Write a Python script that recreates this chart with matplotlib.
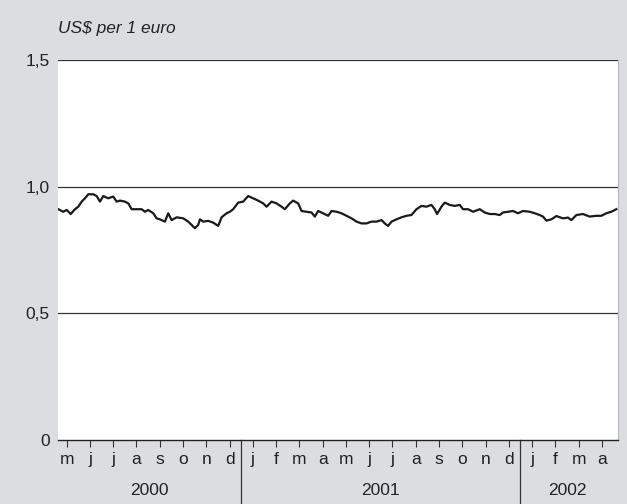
import matplotlib
matplotlib.use("Agg")
import matplotlib.pyplot as plt
import matplotlib.transforms as mtransforms

plt.rcParams['font.family'] = ['Liberation Sans', 'DejaVu Sans']

# time in months since 1 May 2000
months = [0.14, 0.354, 0.50, 0.672, 0.857, 0.998, 1.144, 1.286, 1.428, 1.643, 1.789, 1.930,
          2.072, 2.287, 2.501, 2.647, 2.789, 3.004, 3.146, 3.292, 3.506, 3.721, 3.863, 4.004,
          4.219, 4.365, 4.507, 4.722, 4.863, 5.009, 5.224, 5.507, 5.722, 5.868, 6.010, 6.152,
          6.225, 6.366, 6.581, 6.796, 7.010, 7.156, 7.371, 7.513, 7.654, 7.869, 8.084, 8.299,
          8.513, 8.728, 8.943, 9.089, 9.303, 9.518, 9.733, 9.875, 10.089, 10.231, 10.446,
          10.592, 10.806, 11.021, 11.163, 11.305, 11.519, 11.734, 11.880, 12.095, 12.310,
          12.524, 12.739, 12.954, 13.168, 13.383, 13.598, 13.813, 14.027, 14.169, 14.311,
          14.457, 14.671, 14.886, 15.101, 15.315, 15.530, 15.745, 15.960, 16.174, 16.316,
          16.415, 16.604, 16.746, 16.960, 17.175, 17.390, 17.532, 17.746, 17.961, 18.249,
          18.464, 18.678, 18.893, 19.108, 19.249, 19.464, 19.679, 19.893, 20.108, 20.396,
          20.610, 20.825, 20.967, 21.113, 21.327, 21.542, 21.826, 22.041, 22.186, 22.401,
          22.684, 22.972, 23.260, 23.475, 23.689, 23.904, 24.119]
usd_per_euro = [0.911, 0.901, 0.908, 0.892, 0.911, 0.921, 0.941, 0.954, 0.970, 0.970, 0.963, 0.941,
                0.963, 0.954, 0.961, 0.941, 0.945, 0.941, 0.934, 0.911, 0.911, 0.911, 0.901, 0.908,
                0.895, 0.875, 0.871, 0.862, 0.895, 0.868, 0.879, 0.875, 0.862, 0.849, 0.836, 0.849,
                0.871, 0.862, 0.865, 0.858, 0.845, 0.879, 0.895, 0.901, 0.911, 0.937, 0.941, 0.963,
                0.954, 0.945, 0.934, 0.921, 0.941, 0.934, 0.921, 0.911, 0.934, 0.945, 0.934,
                0.904, 0.901, 0.898, 0.882, 0.904, 0.895, 0.885, 0.904, 0.901, 0.895,
                0.885, 0.875, 0.862, 0.855, 0.855, 0.862, 0.862, 0.868, 0.855, 0.845,
                0.862, 0.871, 0.879, 0.885, 0.888, 0.911, 0.924, 0.921, 0.928, 0.911,
                0.892, 0.921, 0.937, 0.928, 0.924, 0.928, 0.911, 0.911, 0.901, 0.911,
                0.898, 0.892, 0.892, 0.888, 0.898, 0.901, 0.904, 0.895, 0.904, 0.901,
                0.895, 0.888, 0.882, 0.866, 0.871, 0.884, 0.875, 0.878, 0.868, 0.888,
                0.892, 0.882, 0.885, 0.885, 0.895, 0.901, 0.911]

month_labels = ['m', 'j', 'j', 'a', 's', 'o', 'n', 'd',
                'j', 'f', 'm', 'a', 'm', 'j', 'j', 'a', 's', 'o', 'n', 'd',
                'j', 'f', 'm', 'a']
years = ['2000', '2001', '2002']
year_bounds = [0, 8, 20, 24]  # month index boundaries
y_ticks = [0, 0.5, 1.0, 1.5]
y_tick_labels = ['0', '0,5', '1,0', '1,5']
unit_label = 'US$ per 1 euro'

BG = '#dcdde1'
TXT = '#222222'

fig = plt.figure(figsize=(6.27, 5.04), dpi=100, facecolor=BG)
ax = fig.add_axes([58/627, 1-440/504, (618-58)/627, (440-60)/504])
ax.set_facecolor('white')

for v in y_ticks[1:]:
    ax.axhline(v, color='#333333', lw=0.9, zorder=1)

ax.plot(months, usd_per_euro, color='#1a1a1a', lw=1.6, zorder=3)

ax.set_xlim(0.127, 24.19)
ax.set_ylim(0, 1.5)

for s in ['left', 'top']:
    ax.spines[s].set_visible(False)
ax.spines['right'].set_color('#b8b9bd')
ax.spines['right'].set_linewidth(0.8)
ax.spines['bottom'].set_color('#222222')
ax.spines['bottom'].set_linewidth(1.0)

ax.set_yticks(y_ticks)
ax.set_yticklabels(y_tick_labels)
ax.tick_params(axis='y', length=0, pad=6, labelsize=12.5, labelcolor=TXT)

ax.set_xticks([i + 0.5 for i in range(len(month_labels))])
ax.set_xticklabels(month_labels)
ax.tick_params(axis='x', direction='out', length=4.8, width=0.8, color='#333333',
               pad=3.5, labelsize=12.5, labelcolor=TXT)

trans = mtransforms.blended_transform_factory(ax.transData, ax.transAxes)
for b in year_bounds[1:-1]:
    ax.plot([b, b], [0, -0.165], transform=trans, color='#333333', lw=0.9, clip_on=False)
for i, y in enumerate(years):
    lo = max(year_bounds[i], 0.127)
    hi = min(year_bounds[i + 1], 24.19)
    ax.text((lo + hi) / 2, -0.132, y, transform=trans, ha='center', va='center',
            fontsize=12.5, color=TXT)

fig.text(58/627, 1-28/504, unit_label, ha='left', va='center', fontsize=12.5,
         style='italic', color=TXT)

fig.savefig('out.png', dpi=100, facecolor=BG)
